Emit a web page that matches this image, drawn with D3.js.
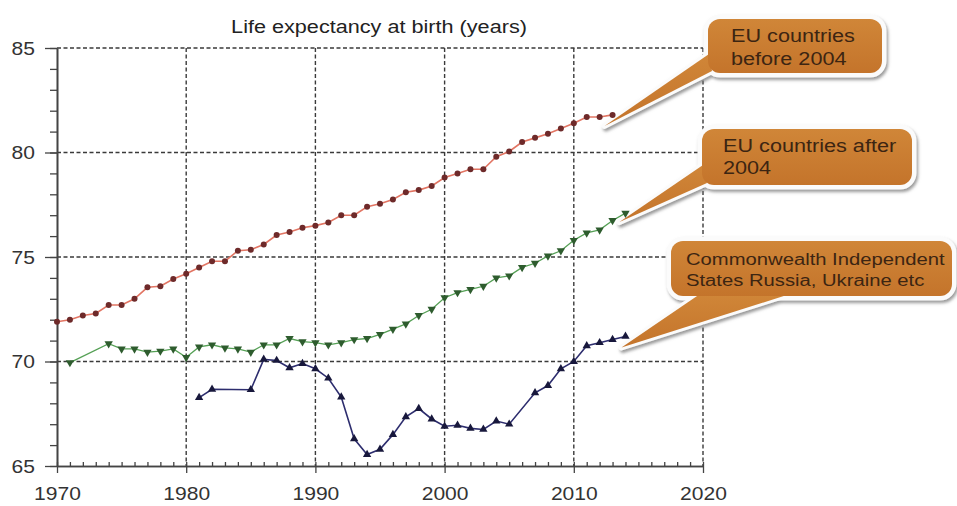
<!DOCTYPE html>
<html lang="en">
<head>
  <meta charset="UTF-8">
  <title>Life expectancy at birth</title>
  <script src="https://d3js.org/d3.v7.min.js"></script>
  <style>
    html, body {
      margin: 0;
      padding: 0;
      background: #fff;
      overflow: hidden;
    }
    svg text {
      font-family: "Liberation Sans", Arial, sans-serif;
    }
  </style>
</head>
<body>
  <svg id="chart" width="957" height="506"></svg>
  <script>
    // data
    const euOldYears = [1970, 1971, 1972, 1973, 1974, 1975, 1976, 1977, 1978, 1979,
      1980, 1981, 1982, 1983, 1984, 1985, 1986, 1987, 1988, 1989,
      1990, 1991, 1992, 1993, 1994, 1995, 1996, 1997, 1998, 1999,
      2000, 2001, 2002, 2003, 2004, 2005, 2006, 2007, 2008, 2009,
      2010, 2011, 2012, 2013];
    const euOldValues = [71.9, 72.0, 72.2, 72.3, 72.7, 72.7, 73.0, 73.55, 73.6, 73.95,
      74.2, 74.5, 74.8, 74.8, 75.3, 75.35, 75.6, 76.05, 76.2, 76.4,
      76.5, 76.65, 77.0, 77.0, 77.4, 77.55, 77.75, 78.1, 78.2, 78.4,
      78.8, 79.0, 79.2, 79.2, 79.8, 80.05, 80.5, 80.7, 80.9, 81.15,
      81.4, 81.7, 81.7, 81.8];

    const euNewYears = [1971, 1974, 1975, 1976, 1977, 1978, 1979,
      1980, 1981, 1982, 1983, 1984, 1985, 1986, 1987, 1988, 1989,
      1990, 1991, 1992, 1993, 1994, 1995, 1996, 1997, 1998, 1999,
      2000, 2001, 2002, 2003, 2004, 2005, 2006, 2007, 2008, 2009,
      2010, 2011, 2012, 2013, 2014];
    const euNewValues = [69.95, 70.85, 70.6, 70.6, 70.45, 70.5, 70.6,
      70.2, 70.7, 70.8, 70.65, 70.6, 70.45, 70.8, 70.8, 71.1, 70.95,
      70.9, 70.8, 70.9, 71.05, 71.1, 71.3, 71.55, 71.8, 72.2, 72.5,
      73.05, 73.3, 73.45, 73.6, 74.0, 74.1, 74.5, 74.7, 75.05, 75.3,
      75.8, 76.15, 76.3, 76.75, 77.1];

    const cisYears = [1981, 1982, 1985, 1986, 1987, 1988, 1989,
      1990, 1991, 1992, 1993, 1994, 1995, 1996, 1997, 1998, 1999,
      2000, 2001, 2002, 2003, 2004, 2005, 2007, 2008, 2009,
      2010, 2011, 2012, 2013, 2014];
    const cisValues = [68.27, 68.67, 68.65, 70.1, 70.05, 69.7, 69.9,
      69.65, 69.2, 68.3, 66.3, 65.55, 65.8, 66.5, 67.35, 67.75, 67.25,
      66.9, 66.95, 66.8, 66.75, 67.15, 67.0, 68.5, 68.85, 69.65,
      70.0, 70.75, 70.9, 71.05, 71.2];

    const xTicks = [1970, 1980, 1990, 2000, 2010, 2020];
    const yTicks = [65, 70, 75, 80, 85];
    const title = 'Life expectancy at birth (years)';
    const labelOld = ['EU countries', 'before 2004'];
    const labelNew = ['EU countries after', '2004'];
    const labelCis = ['Commonwealth Independent', 'States Russia, Ukraine etc'];

    const svg = d3.select('#chart');
    const stretch = 1.17; // the picture's text is a bit wide

    const x = d3.scaleLinear().domain([1970, 2020]).range([57, 703]);
    const y = d3.scaleLinear().domain([65, 85]).range([466, 48]);

    const defs = svg.append('defs');
    const shadow = defs.append('filter').attr('id', 'shadow')
      .attr('x', '-20%').attr('y', '-20%').attr('width', '140%').attr('height', '160%');
    shadow.append('feDropShadow')
      .attr('dx', 1.5).attr('dy', 2.5).attr('stdDeviation', 1.6)
      .attr('flood-color', '#777').attr('flood-opacity', 0.75);
    const grad = defs.append('linearGradient').attr('id', 'orange')
      .attr('x1', 0).attr('y1', 0).attr('x2', 0).attr('y2', 1);
    grad.append('stop').attr('offset', '0%').attr('stop-color', '#d08638');
    grad.append('stop').attr('offset', '100%').attr('stop-color', '#c4742b');

    // grid
    const grid = svg.append('g')
      .attr('stroke', '#3a3a3a')
      .attr('stroke-width', 1.4)
      .attr('stroke-dasharray', '4,2.5');
    grid.selectAll('line.h')
      .data(yTicks.filter(d => d !== 65))
      .join('line')
      .attr('class', 'h')
      .attr('x1', x(1970)).attr('x2', x(2020))
      .attr('y1', d => y(d)).attr('y2', d => y(d));
    grid.selectAll('line.v')
      .data(xTicks.filter(d => d !== 1970))
      .join('line')
      .attr('class', 'v')
      .attr('x1', d => x(d)).attr('x2', d => x(d))
      .attr('y1', y(85)).attr('y2', y(65));

    // axes
    const yMinor = svg.append('g')
      .attr('transform', `translate(${x(1970)},0)`)
      .call(d3.axisLeft(y).tickValues(d3.range(65, 86)).tickSize(7).tickSizeOuter(0).tickFormat(''));
    const yAxis = svg.append('g')
      .attr('transform', `translate(${x(1970)},0)`)
      .call(d3.axisLeft(y).tickValues(yTicks).tickSize(12).tickSizeOuter(0));
    const xMinor = svg.append('g')
      .attr('transform', `translate(0,${y(65)})`)
      .call(d3.axisTop(x).tickValues(d3.range(1970, 2021)).tickSize(4).tickSizeOuter(0).tickFormat(''));
    const xAxis = svg.append('g')
      .attr('transform', `translate(0,${y(65)})`)
      .call(d3.axisBottom(x).tickValues(xTicks).tickSize(7).tickSizeOuter(0).tickFormat(d3.format('d')));

    [yMinor, yAxis, xMinor, xAxis].forEach(g => {
      g.select('.domain').attr('stroke', '#444').attr('stroke-width', 1.6);
      g.selectAll('.tick line').attr('stroke', '#444').attr('stroke-width', 1.3);
    });
    yAxis.selectAll('text')
      .attr('x', -22 / stretch)
      .attr('dy', '0.34em')
      .attr('transform', `scale(${stretch},1)`)
      .attr('font-size', 18)
      .attr('fill', '#333');
    xAxis.selectAll('text')
      .attr('y', 34)
      .attr('dy', 0)
      .attr('transform', `scale(${stretch},1)`)
      .attr('font-size', 18)
      .attr('fill', '#333');

    svg.append('text')
      .attr('transform', `translate(379,33) scale(${stretch},1)`)
      .attr('text-anchor', 'middle')
      .attr('font-size', 18.5)
      .attr('fill', '#222')
      .text(title);

    // callouts (drawn under the series so the last points stay visible)
    function callout(box, wedge, lines, size, textX, baseY, step) {
      const g = svg.append('g');
      const halo = g.append('g').attr('filter', 'url(#shadow)');
      [halo, g].forEach((p, k) => {
        p.append('polygon')
          .attr('points', wedge.map(q => q.join(',')).join(' '))
          .attr('fill', k ? 'url(#orange)' : '#fbfbfb')
          .attr('stroke', k ? 'none' : '#fbfbfb')
          .attr('stroke-width', 6)
          .attr('stroke-linejoin', 'round');
        p.append('rect')
          .attr('x', box[0]).attr('y', box[1])
          .attr('width', box[2]).attr('height', box[3])
          .attr('rx', 12)
          .attr('fill', k ? 'url(#orange)' : '#fbfbfb')
          .attr('stroke', k ? 'none' : '#fbfbfb')
          .attr('stroke-width', 9);
      });
      lines.forEach((t, i) => {
        g.append('text')
          .attr('transform', `translate(${textX},${baseY + i * step}) scale(${stretch},1)`)
          .attr('font-size', size)
          .attr('fill', '#3c2512')
          .text(t);
      });
    }

    callout([708, 19, 174, 54], [[709, 54], [712, 71], [x(2013) - 8, y(81.8) + 11]],
      labelOld, 18.5, 731, 42, 23);
    callout([702, 129, 210, 56], [[703, 165], [707, 183], [x(2014) - 6, y(77.1) + 9]],
      labelNew, 18.5, 723, 152, 22);
    callout([671, 241, 281, 55], [[700, 294], [790, 294], [x(2014) - 4, y(71.2) + 11]],
      labelCis, 17.3, 686, 265, 21);

    // series
    const series = [
      {years: euOldYears, values: euOldValues, line: '#e27563', width: 1.6, mark: '#6e2a2a', shape: 'circle'},
      {years: euNewYears, values: euNewValues, line: '#55a055', width: 1.3, mark: '#2e5c2e', shape: 'down'},
      {years: cisYears, values: cisValues, line: '#2d2d6e', width: 1.6, mark: '#18183c', shape: 'up'}
    ];
    const line = d3.line().x(d => x(d[0])).y(d => y(d[1]));
    const triangle = d3.symbol().type(d3.symbolTriangle).size(30);

    series.forEach(s => {
      const pts = s.years.map((yr, i) => [yr, s.values[i]]);
      const g = svg.append('g');
      g.append('path')
        .datum(pts)
        .attr('fill', 'none')
        .attr('stroke', s.line)
        .attr('stroke-width', s.width)
        .attr('d', line);
      if (s.shape === 'circle') {
        g.selectAll('circle')
          .data(pts)
          .join('circle')
          .attr('cx', d => x(d[0]))
          .attr('cy', d => y(d[1]))
          .attr('r', 3)
          .attr('fill', s.mark);
      } else {
        g.selectAll('path.m')
          .data(pts)
          .join('path')
          .attr('class', 'm')
          .attr('d', triangle)
          .attr('fill', s.mark)
          .attr('transform', d => `translate(${x(d[0])},${y(d[1])})` + (s.shape === 'down' ? ' rotate(180)' : ''));
      }
    });
  </script>
</body>
</html>
